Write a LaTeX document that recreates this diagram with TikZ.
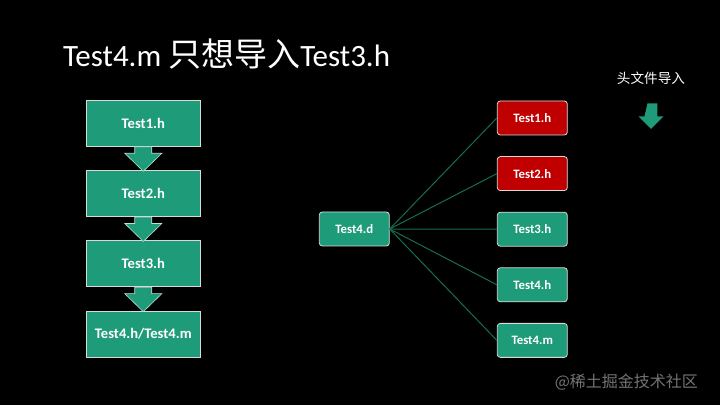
\documentclass[tikz,border=0pt]{standalone}
\usepackage{fontspec}
\setmainfont{Carlito}
\newfontfamily\cjk{Noto Sans CJK SC}
\usetikzlibrary{positioning, calc}
\definecolor{hdrgreen}{RGB}{30,155,120}
\definecolor{hdrred}{RGB}{192,0,0}
\definecolor{linkgreen}{RGB}{22,110,78}
\definecolor{markgray}{RGB}{115,115,115}

% block arrow from the bottom of one box to the top of the next
\newcommand{\blockarrow}[2]{%
  \draw[imparrow] ($(#1.south)+(-8.5,0)$) -- ($(#2.north)+(-8.5,-17)$) -- ++(-10,0)
    -- ($(#2.north)+(0,1)$) -- ($(#2.north)+(18.5,-17)$) -- ++(-10,0)
    -- ($(#1.south)+(8.5,0)$) -- cycle;}

\begin{document}
\begin{tikzpicture}[
    x=0.5pt, y=-0.5pt,
    box/.style={rectangle, draw=white!85!black, line width=0.4pt, fill=hdrgreen, text=white, inner sep=0pt},
    chainbox/.style={box, minimum width=57pt, minimum height=23pt, font=\bfseries\fontsize{7.3}{9}\selectfont},
    filebox/.style={box, rounded corners=1.5pt, minimum width=35pt, minimum height=17pt, font=\bfseries\fontsize{6.4}{8}\selectfont},
    blocked/.style={filebox, fill=hdrred},
    imparrow/.style={fill=hdrgreen, draw=white!70!hdrgreen, line width=0.3pt},
    link/.style={linkgreen, line width=0.5pt}
  ]
  \fill[black] (0,0) rectangle (720,405);
  \useasboundingbox (0,0) rectangle (720,405);

  \node[anchor=base west, text=white, font=\fontsize{15.5}{18}\selectfont] (title) at (56,67)
    {Test4.m {\cjk\fontsize{16.5}{18}\selectfont 只想导入}Test3.h};

  % import chain
  \begin{scope}[node distance=11.7pt]
    \node[chainbox] (h1) at (143.3,123.5) {Test1.h};
    \node[chainbox, below=of h1] (h2) {Test2.h};
    \node[chainbox, below=of h2] (h3) {Test3.h};
    \node[chainbox, below=of h3] (hm) {Test4.h/Test4.m};
  \end{scope}
  \blockarrow{h1}{h2}
  \blockarrow{h2}{h3}
  \blockarrow{h3}{hm}

  % what Test4.d pulls in
  \begin{scope}[node distance=10.4pt]
    \node[blocked] (r1) at (532.3,118) {Test1.h};
    \node[blocked, below=of r1] (r2) {Test2.h};
    \node[filebox, below=of r2] (r3) {Test3.h};
    \node[filebox, below=of r3] (r4) {Test4.h};
    \node[filebox, below=of r4] (r5) {Test4.m};
  \end{scope}
  \node[filebox] (dep) at (354.3,229) {Test4.d};
  \foreach \r in {r1,r2,r3,r4,r5}
    \draw[link] (dep.east) -- (\r.west);

  % legend
  \node[text=white, font=\cjk\fontsize{6.8}{8}\selectfont] (legend) at (651,78) {头文件导入};
  \draw[imparrow, draw=none] ($(legend.south)+(-3.5,12)$) -- ++(10,0) -- ++(0,13) -- ++(6,0)
    -- ++(-12.5,12.5) -- ++(-12.5,-12.5) -- ++(6,0) -- cycle;

  \node[anchor=base east, text=markgray, font=\cjk\fontsize{8}{10}\selectfont] (mark) at (705,388) {@稀土掘金技术社区};
\end{tikzpicture}
\end{document}
